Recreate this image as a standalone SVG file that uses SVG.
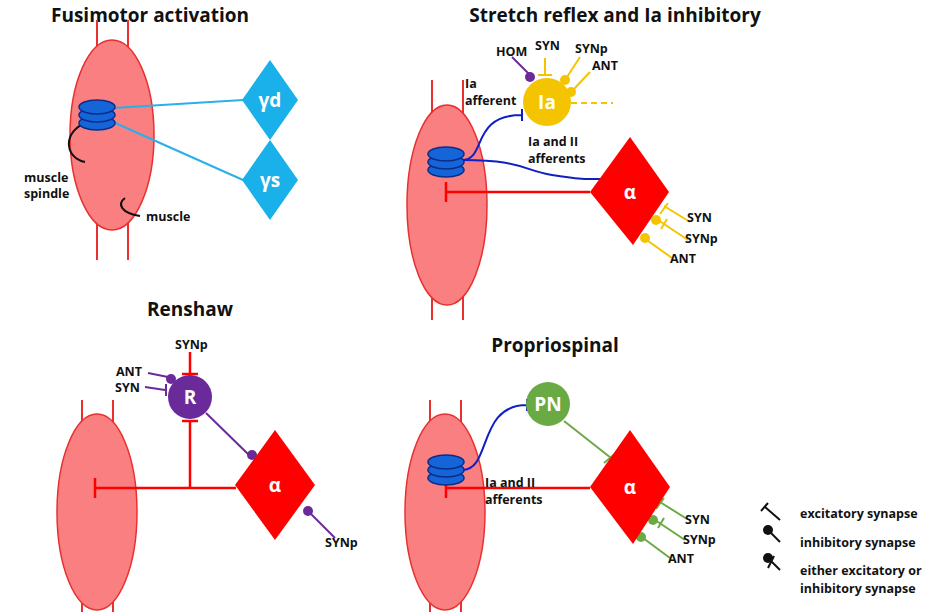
<svg xmlns="http://www.w3.org/2000/svg" width="935" height="612" viewBox="0 0 935 612">
<style>
text{font-family:"Open Sans","Liberation Sans",sans-serif;font-weight:bold;fill:#111}
.t{font-size:19px}.l{font-size:12.5px}.n{font-size:19px;fill:#fff;text-anchor:middle}
.m{fill:#fa7f80;stroke:#e83030;stroke-width:1.5}.mv{stroke:#e83030;stroke-width:2}
.sp{fill:#1565d8;stroke:#0c2c8a;stroke-width:1.5}
.r{stroke:#f00;stroke-width:2.5;fill:none}.b{stroke:#1020c0;stroke-width:2;fill:none}
.y{stroke:#f5c400;stroke-width:2;fill:none}.yf{fill:#f5c400}
.p{stroke:#6a2a9a;stroke-width:2;fill:none}.pf{fill:#6a2a9a}
.g{stroke:#6aaa45;stroke-width:2;fill:none}.gf{fill:#6aaa45}
.c{stroke:#29b0e8;stroke-width:2;fill:none}.k{stroke:#111;stroke-width:2;fill:none}
</style>
<defs>
<g id="spindle"><ellipse class="sp" cx="0" cy="10" rx="18" ry="7"/><ellipse class="sp" cx="0" cy="2" rx="18" ry="7"/><ellipse class="sp" cx="0" cy="-6" rx="18" ry="7"/></g>
</defs>
<text class="t" x="150" y="22" text-anchor="middle">Fusimotor activation</text>
<text class="t" x="615" y="22" text-anchor="middle">Stretch reflex and Ia inhibitory</text>
<text class="t" x="190" y="316" text-anchor="middle">Renshaw</text>
<text class="t" x="555" y="352" text-anchor="middle">Propriospinal</text>
<g id="muscle1"><line class="mv" x1="97" y1="20" x2="97" y2="260"/><line class="mv" x1="128" y1="20" x2="128" y2="260"/><ellipse class="m" cx="112" cy="135" rx="42" ry="95"/></g>
<g id="muscle2"><line class="mv" x1="432" y1="80" x2="432" y2="320"/><line class="mv" x1="463" y1="80" x2="463" y2="320"/><ellipse class="m" cx="447" cy="205" rx="40" ry="100"/></g>
<g id="muscle3"><line class="mv" x1="82" y1="400" x2="82" y2="612"/><line class="mv" x1="113" y1="400" x2="113" y2="612"/><ellipse class="m" cx="97" cy="512" rx="40" ry="98"/></g>
<g id="muscle4"><line class="mv" x1="430" y1="400" x2="430" y2="612"/><line class="mv" x1="461" y1="400" x2="461" y2="612"/><ellipse class="m" cx="445" cy="512" rx="40" ry="98"/></g>
<g id="connectors">
<line class="c" x1="113" y1="108" x2="243" y2="100"/><line class="c" x1="113" y1="122" x2="243" y2="180"/>
<path class="c" d="M108 104v8M108 118v8"/>
<path class="k" d="M88 122c-25 8 -25 35 -3 40" stroke-width="1.5"/>
<path class="k" d="M125 198c-8 6 -4 15 15 18" stroke-width="1.5"/>
<path class="r" d="M590 192H446M446 182v20"/>
<path class="b" d="M462 160c25 0 8-45 60-45M522 109v12"/>
<path class="b" d="M462 160c60 0 60 10 90 15c30 5 40 4 58 4M610 171v14"/>
<path d="M571 103h42" stroke="#f5c400" stroke-width="2" stroke-dasharray="6 4"/>
<path class="p" d="M512 57l17 17"/><circle class="pf" cx="530" cy="77" r="5"/>
<path class="y" d="M545 58v17M538 75h14"/>
<path class="y" d="M580 57l-13 20"/><circle class="yf" cx="565" cy="80" r="5"/>
<path class="y" d="M590 72l-16 17"/><circle class="yf" cx="571" cy="92" r="5"/>
<path class="y" d="M690 222l-26-16M660 214l8-11"/>
<path class="y" d="M688 240l-33-22"/><circle class="yf" cx="656" cy="220" r="5"/><path class="y" d="M661 229l6-10"/>
<path class="y" d="M672 258l-28-20"/><circle class="yf" cx="645" cy="238" r="5"/>
<path class="r" d="M236 488H95M95 478v20M190 488V421M182 421h16M190 352v22M182 374h16"/>
<path class="p" d="M148 373l20 4"/><circle class="pf" cx="171" cy="379" r="5"/>
<path class="p" d="M145 387l20 3M166 384v12"/>
<path class="p" d="M206 413l43 42"/><circle class="pf" cx="252" cy="455" r="5"/>
<path class="p" d="M335 538l-24-24"/><circle class="pf" cx="308" cy="511" r="5"/>
<path class="r" d="M590 488H446M446 478v20"/>
<path class="b" d="M462 470c30 0 15-65 65-65M527 399v12"/>
<path class="g" d="M564 421l47 37M604 463l12-10"/>
<path class="g" d="M687 519l-27-17M656 509l8-11"/>
<path class="g" d="M685 540l-30-20"/><circle class="gf" cx="653" cy="520" r="5"/><path class="g" d="M658 528l6-10"/>
<path class="g" d="M670 558l-27-20"/><circle class="gf" cx="641" cy="537" r="5"/>
</g>
<g id="gd"><polygon points="270,60 298,100 270,140 242,100" fill="#1ab0ea"/><text class="n" x="270" y="107">γd</text></g>
<g id="gs"><polygon points="270,140 298,180 270,220 242,180" fill="#1ab0ea"/><text class="n" x="270" y="187">γs</text></g>
<use href="#spindle" x="97" y="113"/>
<text class="l" x="24" y="182">muscle</text><text class="l" x="24" y="198">spindle</text>
<text class="l" x="146" y="221">muscle</text>
<use href="#spindle" x="446" y="160"/>
<g id="Ia"><circle cx="547" cy="102" r="24" fill="#f5c400"/><text class="n" x="547" y="109">Ia</text></g>
<g id="alpha1"><polygon points="630,137 669,192 633,245 590,192" fill="#f00"/><text class="n" x="630" y="199">α</text></g>
<text class="l" x="465" y="88">Ia</text><text class="l" x="465" y="105">afferent</text>
<text class="l" x="528" y="146">Ia and II</text><text class="l" x="528" y="163">afferents</text>
<text class="l" x="496" y="56">HOM</text><text class="l" x="535" y="50">SYN</text><text class="l" x="575" y="53">SYNp</text><text class="l" x="592" y="70">ANT</text>
<text class="l" x="687" y="222">SYN</text><text class="l" x="685" y="243">SYNp</text><text class="l" x="670" y="263">ANT</text>
<g id="R"><circle cx="190" cy="397" r="22" fill="#6a2a9a"/><text class="n" x="190" y="404">R</text></g>
<g id="alpha2"><polygon points="275,430 315,485 275,540 235,485" fill="#f00"/><text class="n" x="275" y="492">α</text></g>
<text class="l" x="175" y="349">SYNp</text><text class="l" x="116" y="376">ANT</text><text class="l" x="115" y="392">SYN</text>
<text class="l" x="325" y="547">SYNp</text>
<use href="#spindle" x="446" y="468"/>
<g id="PN"><circle cx="548" cy="404" r="22" fill="#6aaa45"/><text class="n" x="548" y="411">PN</text></g>
<g id="alpha3"><polygon points="630,430 670,487 633,544 590,487" fill="#f00"/><text class="n" x="630" y="494">α</text></g>
<text class="l" x="485" y="487">Ia and II</text><text class="l" x="485" y="504">afferents</text>
<text class="l" x="685" y="524">SYN</text><text class="l" x="683" y="544">SYNp</text><text class="l" x="668" y="563">ANT</text>
<g id="legend">
<path class="k" d="M768 503l-7 8M765 507l15 13"/><text class="l" x="800" y="518">excitatory synapse</text>
<circle cx="768" cy="530" r="5" fill="#111"/><path class="k" d="M768 530l12 12"/><text class="l" x="800" y="547">inhibitory synapse</text>
<circle cx="768" cy="558" r="5" fill="#111"/><path class="k" d="M768 558l12 12M774 556l-6 12"/><text class="l" x="800" y="575">either excitatory or</text><text class="l" x="800" y="593">inhibitory synapse</text>
</g>
</svg>
